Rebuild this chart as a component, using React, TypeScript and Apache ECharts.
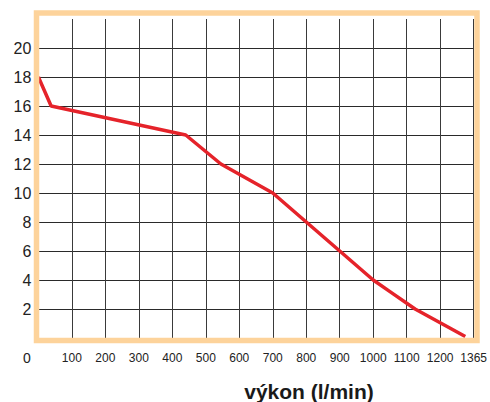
import React, { useEffect, useRef } from "react";
import * as echarts from "echarts";

const flow = [0, 38, 440, 545, 700, 800, 900, 1000, 1050, 1125, 1275];
const head = [18, 16, 14, 12, 10, 8, 6, 4, 3.2, 2, 0.1];
const xMax = 1300;
const xLastLabel = "1365";
const xTitle = "výkon (l/min)";
const zeroLabel = "0";

export default function App() {
  const ref = useRef<HTMLDivElement>(null);
  useEffect(() => {
    document.body.style.margin = "0";
    const chart = echarts.init(ref.current!, null, { renderer: "svg" });
    const sans = "'Liberation Sans', Arial, sans-serif";
    chart.setOption({
      animation: false,
      backgroundColor: "#ffffff",
      grid: { left: 38.4, right: 15, top: 19, bottom: 64, containLabel: false },
      xAxis: {
        type: "value",
        min: 0,
        max: xMax,
        interval: 100,
        axisLine: { show: false },
        axisTick: { show: false },
        splitLine: { show: true, showMinLine: false, lineStyle: { color: "#3a3a3a", width: 1 } },
        axisLabel: {
          showMinLabel: false,
          hideOverlap: false,
          formatter: (v: number) => (v === xMax ? xLastLabel : String(v)),
          fontFamily: sans,
          fontSize: 12,
          color: "#222",
          margin: 14,
        },
      },
      yAxis: {
        type: "value",
        min: 0,
        max: 22,
        interval: 2,
        axisLine: { show: false },
        axisTick: { show: false },
        splitLine: { show: true, showMinLine: false, showMaxLine: false, lineStyle: { color: "#2a2a2a", width: 1 } },
        axisLabel: {
          showMinLabel: false,
          showMaxLabel: false,
          fontFamily: sans,
          fontSize: 16,
          color: "#222",
          margin: 7,
        },
      },
      series: [
        {
          type: "line",
          data: flow.map((x, i) => [x, head[i]]),
          showSymbol: false,
          symbol: "none",
          lineStyle: { color: "#e5232a", width: 3.5 },
          z: 5,
        },
      ],
      graphic: [
        {
          type: "rect",
          shape: { x: 36.5, y: 13, width: 440.5, height: 327.5 },
          style: { fill: "none", stroke: "#fdd39b", lineWidth: 5.5 },
          z: 100,
        },
        {
          type: "text",
          x: 27,
          y: 358,
          style: {
            text: zeroLabel,
            fontFamily: sans,
            fontSize: 14,
            fill: "#222",
            textAlign: "center",
            textVerticalAlign: "middle",
          },
        },
        {
          type: "text",
          x: 309,
          y: 391,
          style: {
            text: xTitle,
            fontFamily: sans,
            fontWeight: "bold",
            fontSize: 21,
            fill: "#1a1a1a",
            textAlign: "center",
            textVerticalAlign: "middle",
          },
        },
      ],
    });
    return () => chart.dispose();
  }, []);
  return <div ref={ref} style={{ width: 490, height: 402 }} />;
}
